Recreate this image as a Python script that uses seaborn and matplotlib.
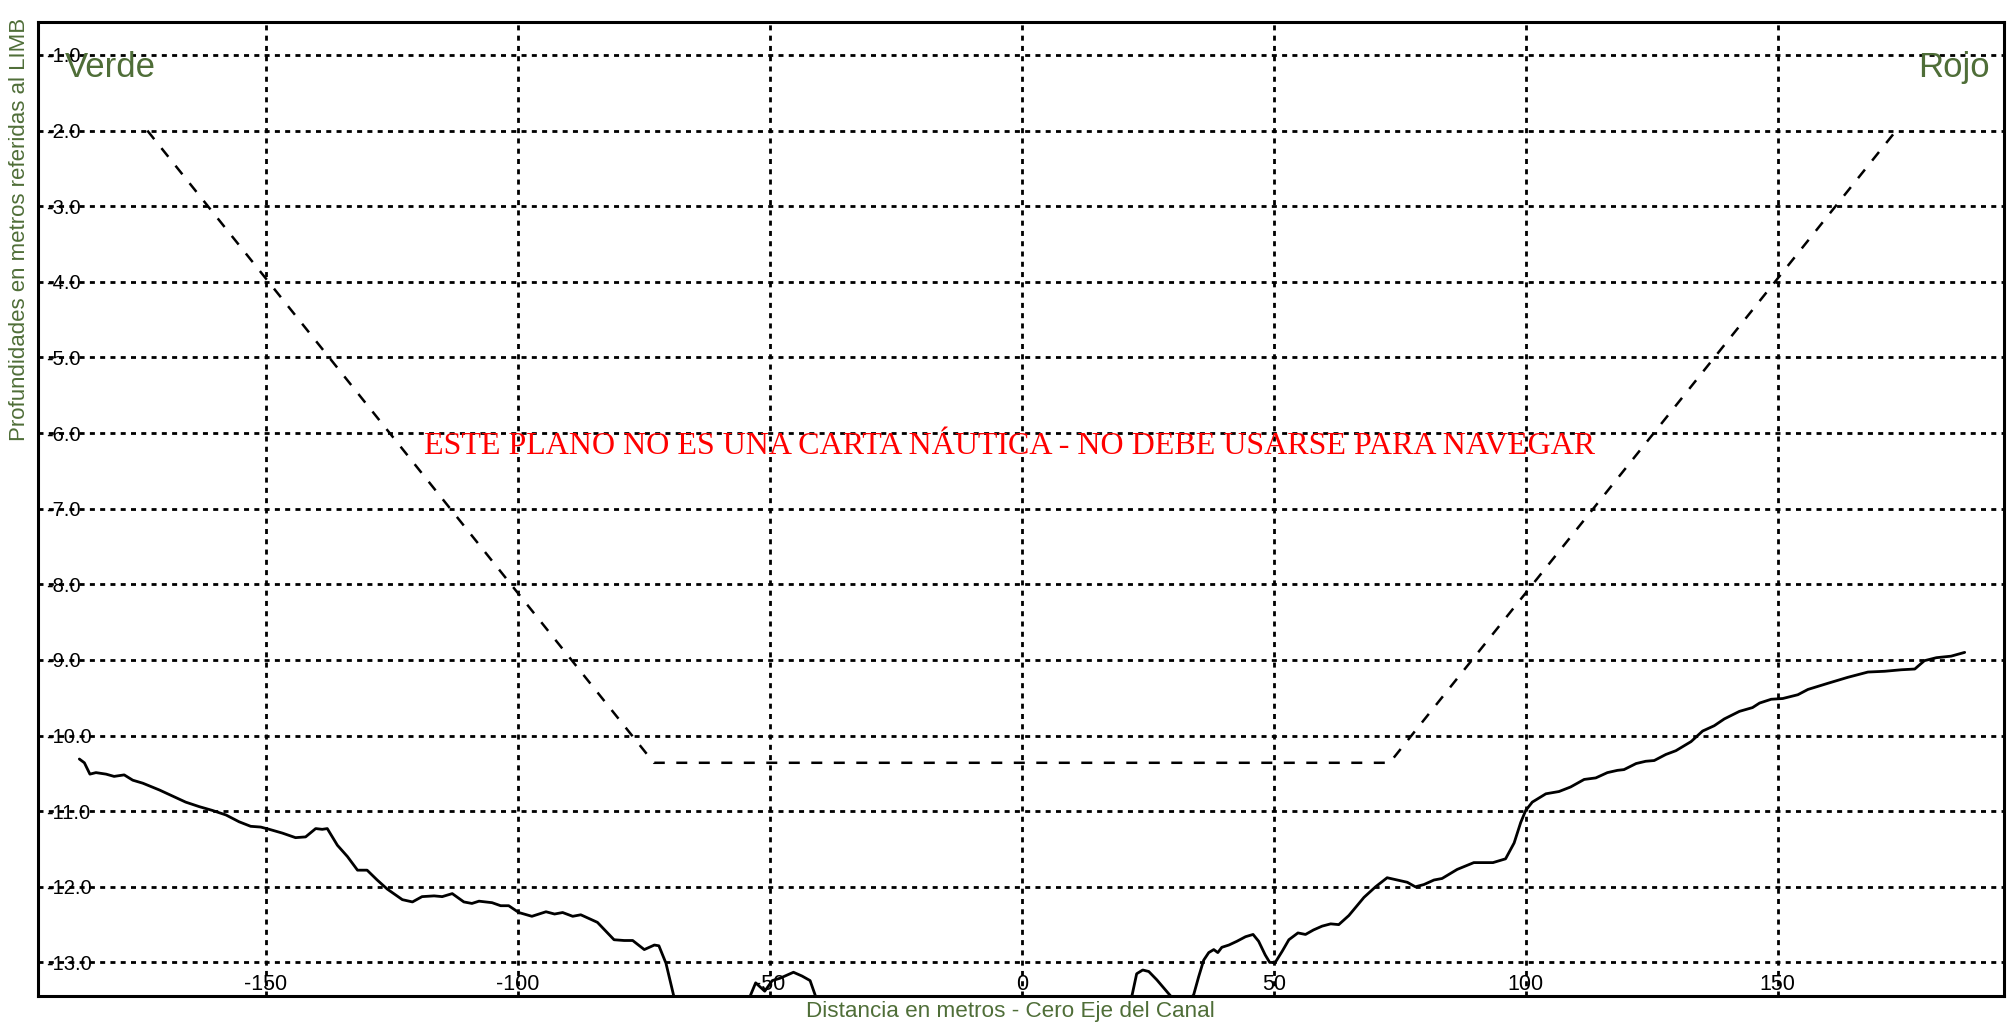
import matplotlib
matplotlib.use("Agg")
import matplotlib.pyplot as plt
import seaborn as sns
import pandas as pd

# ---- data ----
profile_x = [-187.0, -186.0, -184.9, -183.7, -181.7, -180.1, -178.1, -176.4, -174.4, -171.1,
             -168.5, -165.9, -163.2, -160.6, -157.9, -155.3, -153.0, -151.0, -149.3, -146.7,
             -144.1, -142.1, -140.1, -138.8, -137.8, -135.8, -133.8, -131.8, -129.9, -127.9,
             -125.9, -122.9, -120.9, -119.0, -116.6, -115.0, -113.0, -110.7, -109.1, -107.7,
             -105.1, -103.4, -101.8, -99.8, -97.2, -94.4, -92.7, -91.1, -89.1, -87.5,
             -84.2, -80.9, -78.9, -77.2, -74.9, -72.9, -72.0, -70.6, -69.1,
             -68.0, -64.0, -58.0, -55.0,
             -53.8, -52.8, -51.0, -49.5, -48.0, -45.3, -43.6, -42.0, -41.0,
             -39.5, -30.0, -10.0, 10.0, 20.0,
             21.9, 22.8, 24.0, 25.2, 26.8, 29.1,
             31.6,
             34.1, 35.1, 36.1, 37.1, 38.1, 38.9, 39.7, 41.1, 42.7, 44.4,
             45.9, 47.0, 48.3, 49.2, 50.3, 51.7, 53.0, 54.8, 56.3, 57.9,
             59.6, 61.3, 62.9, 64.9, 67.9, 70.2, 72.5, 74.5, 76.5, 78.1,
             79.8, 81.8, 83.4, 86.4, 89.7, 93.5, 96.0, 97.7, 99.0, 100.0,
             101.3, 104.0, 106.6, 108.9, 111.6, 113.9, 116.2, 118.2, 119.5, 121.9,
             123.8, 125.5, 127.8, 129.8, 132.8, 135.1, 137.4, 139.4, 142.4, 145.0,
             146.4, 148.7, 151.0, 154.0, 156.0, 159.9, 163.9, 167.9, 171.2, 174.5,
             177.2, 179.1, 181.5, 184.4, 187.1]
profile_y = [-10.31, -10.36, -10.51, -10.49, -10.51, -10.54, -10.52, -10.59, -10.63, -10.72,
             -10.80, -10.88, -10.94, -10.99, -11.05, -11.14, -11.20, -11.21, -11.24, -11.29,
             -11.35, -11.34, -11.23, -11.24, -11.23, -11.45, -11.60, -11.78, -11.78, -11.91,
             -12.03, -12.17, -12.20, -12.13, -12.12, -12.13, -12.09, -12.20, -12.22, -12.19,
             -12.21, -12.25, -12.25, -12.34, -12.39, -12.33, -12.36, -12.34, -12.39, -12.37,
             -12.47, -12.70, -12.71, -12.71, -12.83, -12.77, -12.78, -13.01, -13.43,
             -13.75, -14.00, -14.00, -13.70,
             -13.43, -13.27, -13.38, -13.24, -13.21, -13.13, -13.18, -13.24, -13.43,
             -13.75, -14.00, -14.10, -14.00, -13.70,
             -13.43, -13.15, -13.10, -13.12, -13.23, -13.41,
             -13.60,
             -13.43, -13.19, -12.97, -12.87, -12.83, -12.87, -12.80, -12.77, -12.72, -12.66,
             -12.63, -12.72, -12.90, -13.00, -13.00, -12.85, -12.70, -12.61, -12.63, -12.57,
             -12.52, -12.49, -12.50, -12.38, -12.14, -12.00, -11.88, -11.91, -11.94, -12.00,
             -11.97, -11.91, -11.89, -11.77, -11.68, -11.68, -11.63, -11.42, -11.15, -10.99,
             -10.88, -10.77, -10.74, -10.68, -10.58, -10.56, -10.49, -10.46, -10.45, -10.37,
             -10.34, -10.33, -10.25, -10.20, -10.08, -9.94, -9.87, -9.78, -9.68, -9.63,
             -9.57, -9.52, -9.51, -9.46, -9.39, -9.31, -9.23, -9.16, -9.15, -9.13,
             -9.12, -9.01, -8.97, -8.95, -8.90]

design_x = [-173.5, -73.0, 73.0, 173.5]
design_y = [-2.0, -10.36, -10.36, -2.0]

x_ticks = [-150, -100, -50, 0, 50, 100, 150]
x_tick_labels = ["-150", "-100", "-50", "0", "50", "100", "150"]
y_ticks = [-1.0, -2.0, -3.0, -4.0, -5.0, -6.0, -7.0, -8.0, -9.0, -10.0, -11.0, -12.0, -13.0]
y_tick_labels = ["-1.0", "-2.0", "-3.0", "-4.0", "-5.0", "-6.0", "-7.0", "-8.0", "-9.0",
                 "-10.0", "-11.0", "-12.0", "-13.0"]

side_left = "Verde"
side_right = "Rojo"
warning = "ESTE PLANO NO ES UNA CARTA NÁUTICA - NO DEBE USARSE PARA NAVEGAR"
xlabel = "Distancia en metros - Cero Eje del Canal"
ylabel = "Profundidades en metros referidas al LIMB"

# ---- style ----
sns.set_style("white")
plt.rcParams["font.family"] = ["Liberation Sans", "DejaVu Sans"]
green = "#4f6e38"

W, H = 2010, 1032
fig = plt.figure(figsize=(W / 100, H / 100), dpi=100)
left, right, top, bottom = 38, 2004, 21.7, 995.7
ax = fig.add_axes([left / W, 1 - bottom / H, (right - left) / W, (bottom - top) / H])

prof = pd.DataFrame({"x": profile_x, "y": profile_y})
des = pd.DataFrame({"x": design_x, "y": design_y})

sns.lineplot(data=prof, x="x", y="y", ax=ax, color="black", linewidth=2.0,
             sort=False, estimator=None)
sns.lineplot(data=des, x="x", y="y", ax=ax, color="black", linewidth=1.8,
             linestyle=(0, (4.4, 4.6)), sort=False, estimator=None)

ax.set_xlim(-195.2, 194.9)
ax.set_ylim(-13.44, -0.56)
ax.set_xlabel("")
ax.set_ylabel("")

ax.set_xticks(x_ticks)
ax.set_xticklabels(x_tick_labels, fontsize=15.5, color="black")
ax.set_yticks(y_ticks)
ax.set_yticklabels(y_tick_labels, fontsize=14.5, color="black")
ax.tick_params(axis="x", length=0, pad=-4.0)
ax.tick_params(axis="y", length=0, pad=-6.0)
for lab in ax.get_xticklabels():
    lab.set_verticalalignment("baseline")
for lab in ax.get_yticklabels():
    lab.set_horizontalalignment("left")

ax.grid(True, color="black", linewidth=2.0, linestyle=(0, (1.8, 1.9)))
ax.set_axisbelow(True)
for sp in ax.spines.values():
    sp.set_visible(True)
    sp.set_color("black")
    sp.set_linewidth(2.2)

fig.text(65 / W, 1 - 77 / H, side_left, fontsize=25, color=green, ha="left", va="baseline")
fig.text(1990 / W, 1 - 77 / H, side_right, fontsize=25, color=green, ha="right", va="baseline")
fig.text(1010 / W, 1 - 447 / H, warning, fontsize=23, color="red", ha="center", va="center",
         family=["Liberation Serif", "DejaVu Serif"])
fig.text(1010 / W, 1 - 1011 / H, xlabel, fontsize=16.2, color=green, ha="center", va="center")
fig.text(20 / W, 1 - 18 / H, ylabel, fontsize=16, color=green, ha="center", va="top",
         rotation=90)

fig.savefig("out.png", dpi=100)
